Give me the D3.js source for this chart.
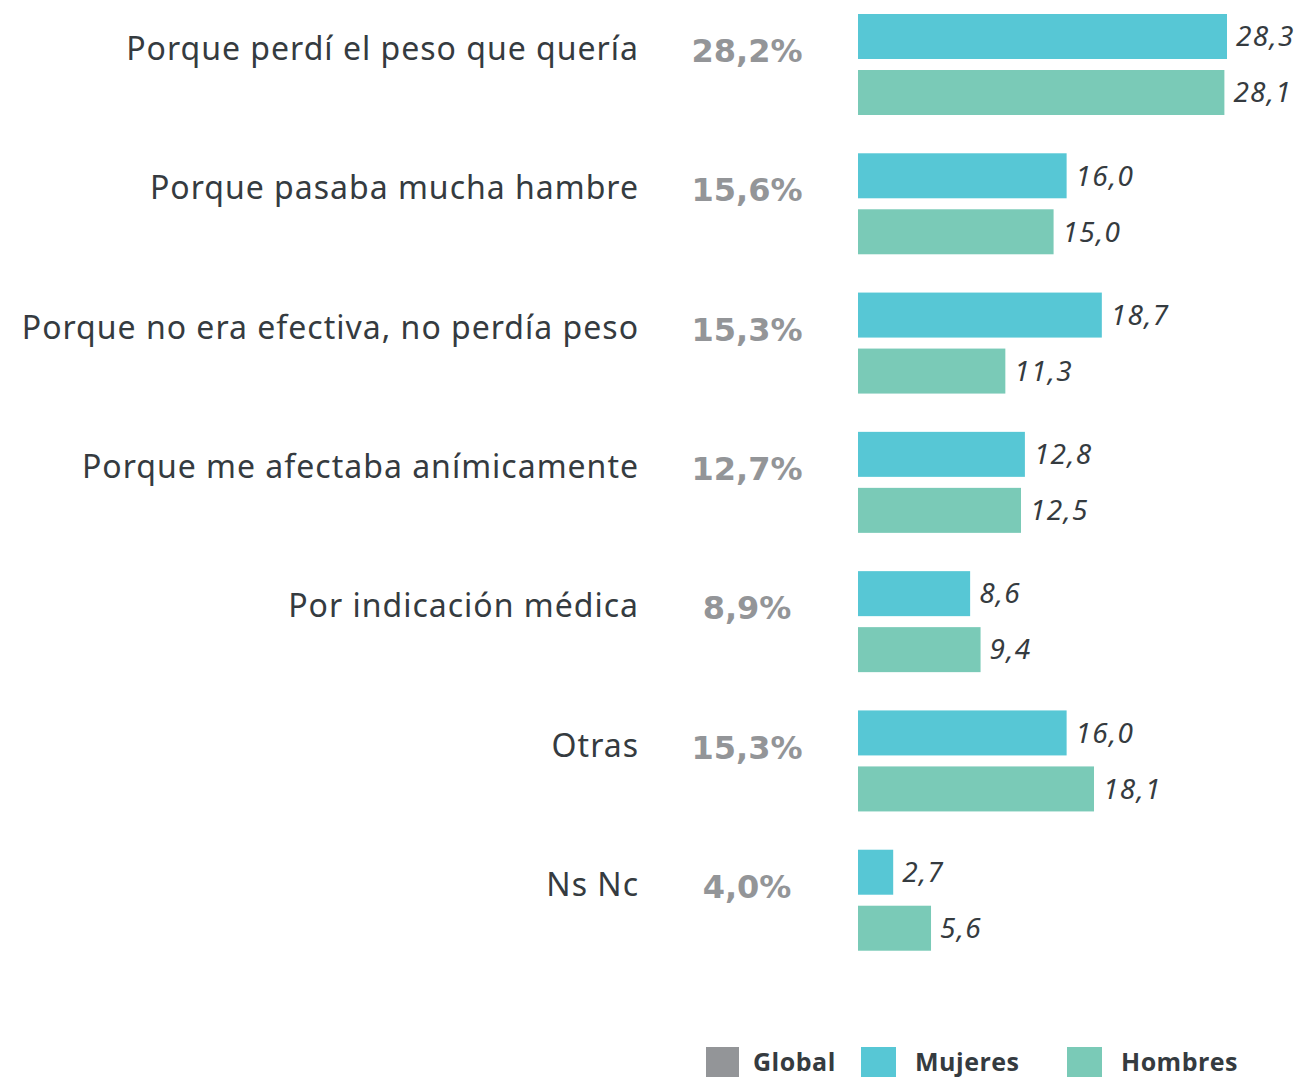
<!DOCTYPE html>
<html>
<head>
<meta charset="utf-8">
<script src="https://cdn.jsdelivr.net/npm/d3@7"></script>
<style>
  body { margin: 0; background: #fff; }
  svg { display: block; }
</style>
</head>
<body>
<div id="chart_container"></div>
<script>
// data
let categories = [
  "Porque perdí el peso que quería",
  "Porque pasaba mucha hambre",
  "Porque no era efectiva, no perdía peso",
  "Porque me afectaba anímicamente",
  "Por indicación médica",
  "Otras",
  "Ns Nc"
];
let globalValues = [28.2, 15.6, 15.3, 12.7, 8.9, 15.3, 4.0];
let mujeresValues = [28.3, 16.0, 18.7, 12.8, 8.6, 16.0, 2.7];
let hombresValues = [28.1, 15.0, 11.3, 12.5, 9.4, 18.1, 5.6];
let seriesNames = ["Global", "Mujeres", "Hombres"];

let svgWidth = 1301;
let svgHeight = 1077;

let textColor = "#353b40";
let globalColor = "#939598";
let mujeresColor = "#57c7d5";
let hombresColor = "#7acab7";

let barX = 858;
let barHeight = 45;
let barGap = 11;

let fmt = v => v.toFixed(1).replace(".", ",");

let svg = d3.select("#chart_container")
  .append("svg")
  .attr("width", svgWidth)
  .attr("height", svgHeight);

let yScale = d3.scaleBand()
  .domain(categories)
  .range([14, 989])
  .paddingInner(0)
  .paddingOuter(0);

let xScale = d3.scaleLinear()
  .domain([0, 28.3])
  .range([0, 369]);

let rows = categories.map((c, i) => ({
  name: c,
  global: globalValues[i],
  mujeres: mujeresValues[i],
  hombres: hombresValues[i]
}));

let groups = svg.selectAll(".row")
  .data(rows)
  .enter()
  .append("g")
  .attr("class", "row")
  .attr("transform", d => "translate(0," + yScale(d.name) + ")");

// category labels
groups.append("text")
  .attr("x", 639)
  .attr("y", 35)
  .attr("dy", "0.35em")
  .attr("text-anchor", "end")
  .attr("font-family", "'Noto Sans', sans-serif")
  .attr("font-size", 32)
  .attr("letter-spacing", 1)
  .attr("fill", textColor)
  .text(d => d.name);

// global percentage
groups.append("text")
  .attr("x", 747)
  .attr("y", 37)
  .attr("dy", "0.35em")
  .attr("text-anchor", "middle")
  .attr("font-family", "'DejaVu Sans', sans-serif")
  .attr("font-weight", "bold")
  .attr("font-size", 32)
  .attr("fill", globalColor)
  .text(d => fmt(d.global) + "%");

let bars = [
  { key: "mujeres", color: mujeresColor, offset: 0 },
  { key: "hombres", color: hombresColor, offset: barHeight + barGap }
];

bars.forEach(b => {
  groups.append("rect")
    .attr("x", barX)
    .attr("y", b.offset)
    .attr("width", d => xScale(d[b.key]))
    .attr("height", barHeight)
    .attr("fill", b.color);

  groups.append("text")
    .attr("x", d => barX + xScale(d[b.key]) + 9)
    .attr("y", b.offset + barHeight / 2)
    .attr("dy", "0.35em")
    .attr("font-family", "'Noto Sans', sans-serif")
    .attr("font-style", "italic")
    .attr("font-size", 28)
    .attr("letter-spacing", 1.3)
    .attr("fill", textColor)
    .text(d => fmt(d[b.key]));
});

// legend
let legendX = d3.scalePoint()
  .domain(seriesNames)
  .range([706, 1067]);
let legendColors = [globalColor, mujeresColor, hombresColor];

let legend = svg.selectAll(".legend")
  .data(seriesNames)
  .enter()
  .append("g")
  .attr("class", "legend")
  .attr("transform", (d, i) => "translate(" + (i == 1 ? 861 : legendX(d)) + ",1047)");

legend.append("rect")
  .attr("width", (d, i) => i == 0 ? 33 : 35)
  .attr("height", 30)
  .attr("fill", (d, i) => legendColors[i]);

legend.append("text")
  .attr("x", (d, i) => i == 0 ? 47 : 54)
  .attr("y", 15)
  .attr("dy", "0.35em")
  .attr("font-family", "'Open Sans', sans-serif")
  .attr("font-weight", "bold")
  .attr("font-size", 25)
  .attr("letter-spacing", 0.5)
  .attr("fill", textColor)
  .text(d => d);
</script>
</body>
</html>
